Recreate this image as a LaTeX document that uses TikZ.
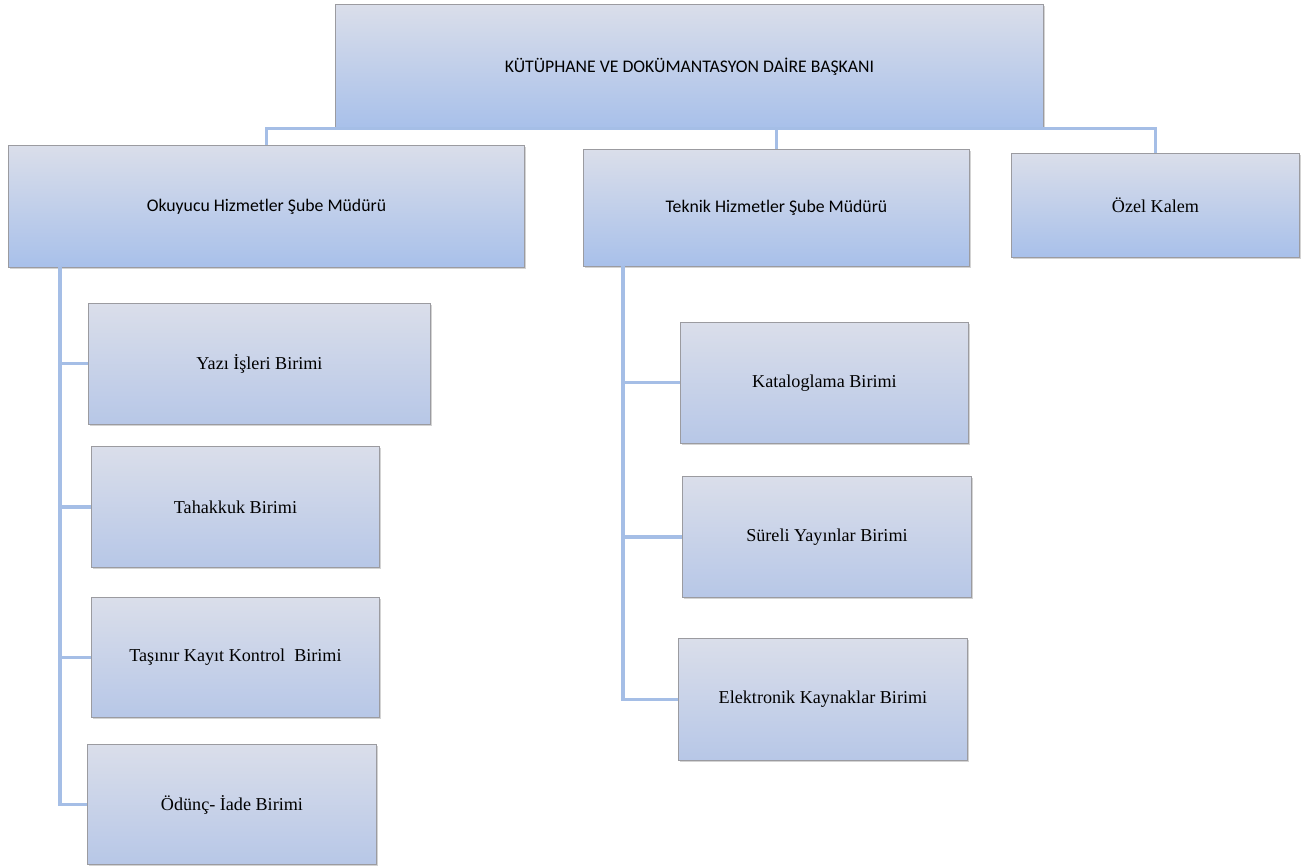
\documentclass[tikz,border=0pt]{standalone}
\usepackage{fontspec}
\setmainfont{Liberation Serif}
\newfontfamily\calibri{Carlito}
\usetikzlibrary{shadows}

\definecolor{boxtop}{RGB}{218,222,234}
\definecolor{boxbot}{RGB}{168,192,234}
\definecolor{unitbot}{RGB}{183,199,231}
\definecolor{boxline}{RGB}{155,155,160}
\definecolor{linkblue}{RGB}{165,190,230}

\tikzset{
  unit/.style={draw=boxline, line width=0.7pt, top color=boxtop, bottom color=unitbot,
    anchor=north west, inner sep=0pt, font=\fontsize{13.6}{15}\selectfont,
    drop shadow={shadow xshift=1.2pt, shadow yshift=-1.2pt, opacity=0.35}},
  head/.style={unit, bottom color=boxbot, font=\calibri\fontsize{13.3}{15}\selectfont},
  link/.style={draw=linkblue, line width=2.3pt}
}

\begin{document}
\begin{tikzpicture}[x=0.75pt, y=-0.75pt]
	\useasboundingbox (0,0) rectangle (1315,866);

	% management
	\node [head, minimum width=531pt, minimum height=93pt] (top) at (335,4) {K\"UT\"UPHANE VE DOK\"UMANTASYON DA\.IRE BA\c{S}KANI};
	\node [head, minimum width=387pt, minimum height=91.5pt] (okuy) at (8,145) {Okuyucu Hizmetler \c{S}ube M\"ud\"ur\"u};
	\node [head, minimum width=289.5pt, minimum height=87.75pt] (tek) at (583,149) {Teknik Hizmetler \c{S}ube M\"ud\"ur\"u};
	\node [unit, bottom color=boxbot, minimum width=216pt, minimum height=78pt] (ozel) at (1011,153) {Özel Kalem};

	% reader services
	\node [unit, minimum width=256.5pt, minimum height=90.75pt] (yazi) at (88,303) {Yazı İşleri Birimi};
	\node [unit, minimum width=216pt, minimum height=90.75pt] (tah) at (91,446) {Tahakkuk Birimi};
	\node [unit, minimum width=216pt, minimum height=90pt] (tas) at (91,597) {Taşınır Kayıt Kontrol\ \ Birimi};
	\node [unit, minimum width=216.75pt, minimum height=90pt] (odunc) at (87,744) {Ödünç- İade Birimi};

	% technical services
	\node [unit, minimum width=216pt, minimum height=90.75pt] (kat) at (680,322) {Kataloglama Birimi};
	\node [unit, minimum width=216.75pt, minimum height=90.75pt] (sur) at (682,476) {Süreli Yayınlar Birimi};
	\node [unit, minimum width=216.75pt, minimum height=91.5pt] (elk) at (678,638) {Elektronik Kaynaklar Birimi};

	\coordinate (lbus) at (60,267);
	\coordinate (rbus) at (623,266);

	\draw [link] (okuy.north) |- (top.south) -| (ozel.north);
	\draw [link] (tek.north) -- (tek.north |- top.south);

	\foreach \b in {yazi,tah,tas,odunc}
		\draw [link] (lbus) |- (\b.west);
	\foreach \b in {kat,sur,elk}
		\draw [link] (rbus) |- (\b.west);
\end{tikzpicture}
\end{document}
